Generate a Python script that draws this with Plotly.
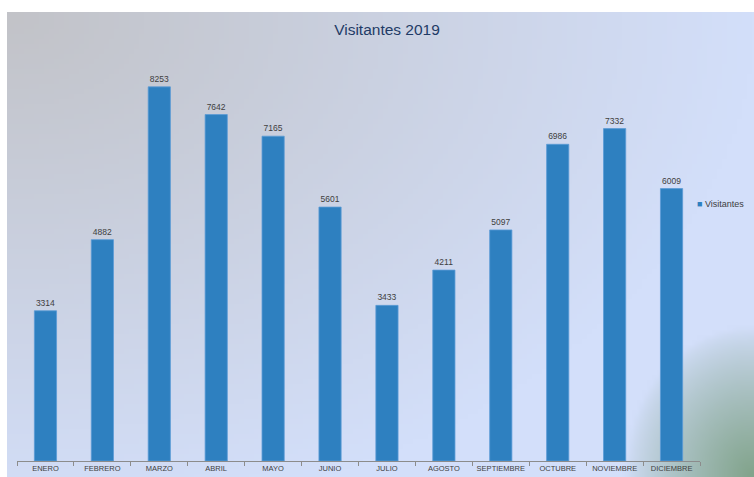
import base64
import struct
import zlib

import numpy as np
import plotly.graph_objects as go

# ---- data -------------------------------------------------------------
meses = ["ENERO", "FEBRERO", "MARZO", "ABRIL", "MAYO", "JUNIO", "JULIO",
         "AGOSTO", "SEPTIEMBRE", "OCTUBRE", "NOVIEMBRE", "DICIEMBRE"]
visitantes = [3314, 4882, 8253, 7642, 7165, 5601, 3433,
              4211, 5097, 6986, 7332, 6009]
serie = "Visitantes"
titulo = "Visitantes 2019"

BAR_COLOR = "#2E80C0"
TEXT_COLOR = "#404040"
FONT = "Liberation Sans Narrow, Arial Narrow, Liberation Sans, sans-serif"


# ---- background gradient (grey top-left, light blue, green bottom-right)
def gradient_png(w=150, h=93):
    u = np.linspace(0, 1, w)[None, :]
    v = np.linspace(0, 1, h)[:, None]
    blue = np.array([211, 223, 250], float)
    grey = np.array([194, 195, 200], float)
    green = np.array([130, 164, 140], float)
    wg = np.clip(1 - np.sqrt((u / 1.0) ** 2 + (v / 1.1) ** 2), 0, 1)
    wgr = np.clip(1 - np.sqrt(((1 - u) / 0.17) ** 2 + ((1 - v) / 0.32) ** 2), 0, 1) ** 0.8
    img = blue[None, None, :] * np.ones((h, w, 1))
    img = img * (1 - wg[..., None]) + grey * wg[..., None]
    img = img * (1 - wgr[..., None]) + green * wgr[..., None]
    img = np.clip(img, 0, 255).astype(np.uint8)
    raw = b"".join(b"\x00" + img[r].tobytes() for r in range(h))

    def chunk(tag, data):
        c = struct.pack(">I", len(data)) + tag + data
        return c + struct.pack(">I", zlib.crc32(tag + data) & 0xFFFFFFFF)

    png = b"\x89PNG\r\n\x1a\n"
    png += chunk(b"IHDR", struct.pack(">IIBBBBB", w, h, 8, 2, 0, 0, 0))
    png += chunk(b"IDAT", zlib.compress(raw, 9))
    png += chunk(b"IEND", b"")
    return "data:image/png;base64," + base64.b64encode(png).decode()


W, H = 754, 477
L, R, T, B = 17, 54, 53, 16
pw, ph = W - L - R, H - T - B

fig = go.Figure()
fig.add_trace(go.Bar(
    x=meses, y=visitantes, name=serie,
    marker=dict(color=BAR_COLOR, line=dict(color="#5A9BD5", width=0.8)),
    text=visitantes, texttemplate="%{text}", textposition="outside",
    textfont=dict(size=8.5, color=TEXT_COLOR, family=FONT),
    cliponaxis=False, showlegend=False,
))

# background image spanning the chart area
x0, y0 = 7, 12
fig.add_layout_image(dict(
    source=gradient_png(), xref="paper", yref="paper",
    x=(x0 - L) / pw, y=(H - B - y0) / ph,
    sizex=(W - x0) / pw, sizey=(H - y0) / ph,
    xanchor="left", yanchor="top", sizing="stretch", layer="below",
))

# legend entry
fig.add_annotation(
    xref="paper", yref="paper", x=(695 - L) / pw, y=(H - B - 204) / ph,
    xanchor="left", yanchor="middle", showarrow=False,
    text=f'<span style="color:{BAR_COLOR}">■</span> {serie}',
    font=dict(size=9, color=TEXT_COLOR, family=FONT),
)

fig.update_layout(
    width=W, height=H,
    margin=dict(l=L, r=R, t=T, b=B),
    paper_bgcolor="white", plot_bgcolor="rgba(0,0,0,0)",
    bargap=0.61,
    title=dict(text=titulo, x=387 / W, xanchor="center",
               y=1 - 30 / H, yanchor="middle",
               font=dict(size=15.5, color="#1F3B66", family=FONT)),
    xaxis=dict(showline=True, linecolor="#8C8C8C", linewidth=1,
               ticks="outside", tickson="boundaries", ticklen=4,
               tickcolor="#8C8C8C", showgrid=False, tickangle=0,
               automargin=False,
               tickfont=dict(size=7.5, color=TEXT_COLOR, family=FONT)),
    yaxis=dict(range=[0, 9000], visible=False, showgrid=False,
               automargin=False),
)

fig.write_html("out.html")
